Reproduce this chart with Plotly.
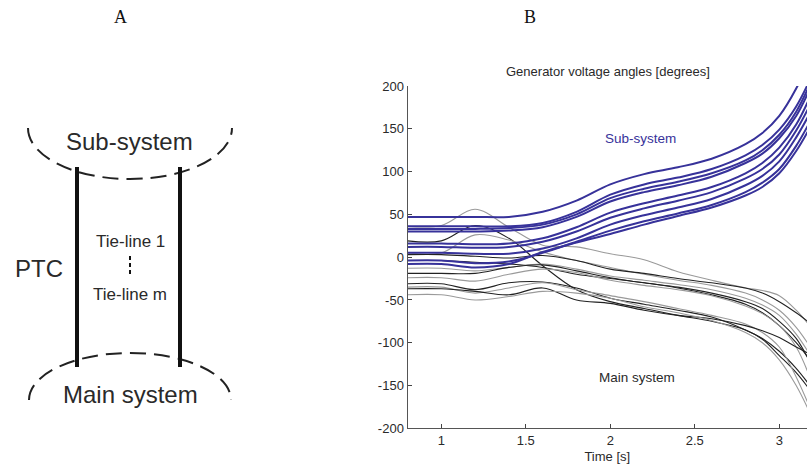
import plotly.graph_objects as go

# ---- time samples (s) ----
time_s = [0.8, 1.0, 1.2, 1.4, 1.6, 1.8, 2.0, 2.2, 2.4, 2.6, 2.8, 2.9, 3.0, 3.1, 3.2]

# ---- sub-system generator angles (degrees) ----
sub_1 = [47, 47, 47, 47, 53, 66, 85, 97, 105, 115, 132, 145, 165, 197, 240]
sub_2 = [36, 36, 36, 36, 40, 53, 73, 85, 93, 103, 119, 131, 149, 176, 215]
sub_3 = [33, 33, 33, 34, 38, 50, 69, 80, 88, 98, 113, 125, 143, 170, 210]
sub_4 = [30, 30, 30, 31, 35, 47, 65, 76, 84, 94, 110, 121, 139, 165, 205]
sub_5 = [16, 16, 15, 16, 22, 35, 52, 63, 72, 82, 98, 110, 128, 155, 195]
sub_6 = [12, 12, 11, 12, 18, 30, 46, 57, 66, 76, 92, 103, 120, 148, 185]
sub_7 = [5, 5, 4, 4, 10, 22, 38, 49, 58, 68, 84, 95, 112, 140, 175]
sub_8 = [-4, -4, -7, -5, 5, 18, 31, 42, 51, 61, 76, 87, 103, 130, 165]
sub_9 = [-8, -8, -12, -8, 6, 17, 27, 38, 48, 58, 72, 82, 98, 124, 158]

# ---- main-system generator angles (degrees) ----
main_1 = [36, 37, 56, 35, 14, 12, 4, -3, -17, -27, -36, -39, -45, -62, -85]
main_2 = [19, 19, 37, 22, -10, -38, -52, -60, -68, -75, -85, -96, -115, -135, -160]
main_3 = [5, 5, 26, 20, 6, -4, -12, -20, -27, -33, -42, -50, -62, -82, -110]
main_4 = [3, 3, 1, -1, 2, -4, -14, -19, -25, -30, -36, -42, -52, -65, -80]
main_5 = [-4, -4, -6, -8, -12, -20, -25, -30, -36, -44, -55, -65, -80, -100, -125]
main_6 = [-13, -13, -16, -12, -8, -14, -22, -27, -32, -38, -48, -56, -68, -90, -120]
main_7 = [-19, -19, -19, -12, -9, -16, -24, -30, -35, -42, -52, -60, -75, -95, -130]
main_8 = [-24, -24, -28, -20, -14, -18, -27, -33, -38, -45, -57, -66, -80, -105, -150]
main_9 = [-31, -31, -38, -30, -29, -36, -48, -55, -62, -70, -85, -95, -110, -130, -155]
main_10 = [-35, -35, -42, -36, -30, -38, -45, -52, -60, -68, -78, -88, -105, -140, -185]
main_11 = [-37, -37, -40, -44, -36, -50, -54, -62, -68, -72, -80, -86, -94, -105, -115]
main_12 = [-44, -44, -50, -46, -40, -42, -48, -58, -65, -74, -88, -100, -120, -150, -190]

sub_series = [sub_1, sub_2, sub_3, sub_4, sub_5, sub_6, sub_7, sub_8, sub_9]
main_series = [main_1, main_2, main_3, main_4, main_5, main_6,
               main_7, main_8, main_9, main_10, main_11, main_12]
main_tone = ["light", "dark", "light", "dark", "dark", "light",
             "dark", "light", "dark", "light", "dark", "light"]

y_tick_vals = [-200, -150, -100, -50, 0, 50, 100, 150, 200]
y_tick_text = ["-200", "-150", "-100", "-50", "0", "50", "100", "150", "200"]
x_tick_vals = [1, 1.5, 2, 2.5, 3]
x_tick_text = ["1", "1.5", "2", "2.5", "3"]

BLUE = "#37329a"
DARK = "#222222"
LIGHT = "#9a9a9a"
TXT = "#2a2a2a"
SANS = "Liberation Sans, Arial, sans-serif"

fig = go.Figure()

for vals, tone in zip(main_series, main_tone):
    fig.add_trace(go.Scatter(
        x=time_s, y=vals, mode="lines",
        line=dict(color=DARK if tone == "dark" else LIGHT, width=1.1,
                  shape="spline", smoothing=1.0),
        hoverinfo="skip", showlegend=False, xaxis="x", yaxis="y"))

for vals in sub_series:
    fig.add_trace(go.Scatter(
        x=time_s, y=vals, mode="lines",
        line=dict(color=BLUE, width=2, shape="spline", smoothing=1.0),
        hoverinfo="skip", showlegend=False, xaxis="x", yaxis="y"))

W, H = 807, 466

# ---- diagram drawn on a pixel-unit overlay axis pair ----
def half_ellipse(cx, cy, a, b, lower=True):
    k = 0.5523
    s = 1 if lower else -1
    return (f"M {cx - a},{cy} "
            f"C {cx - a},{cy + s * k * b} {cx - k * a},{cy + s * b} {cx},{cy + s * b} "
            f"C {cx + k * a},{cy + s * b} {cx + a},{cy + s * k * b} {cx + a},{cy}")

shapes = [
    dict(type="path", path=half_ellipse(130, 128, 102, 51, lower=True),
         xref="x2", yref="y2", line=dict(color=DARK, width=2, dash="16px,8px")),
    dict(type="path", path=half_ellipse(130, 400, 101, 47, lower=False),
         xref="x2", yref="y2", line=dict(color=DARK, width=2, dash="16px,8px")),
    dict(type="line", x0=77, x1=77, y0=167, y1=367, xref="x2", yref="y2",
         line=dict(color="#111111", width=4)),
    dict(type="line", x0=180, x1=180, y0=167, y1=367, xref="x2", yref="y2",
         line=dict(color="#111111", width=4)),
    dict(type="line", x0=130, x1=130, y0=256, y1=275, xref="x2", yref="y2",
         line=dict(color="#111111", width=2, dash="4px,3px")),
]

def note(x, y, text, size, color=TXT, family=SANS, ref=("x2", "y2")):
    return dict(x=x, y=y, xref=ref[0], yref=ref[1], text=text, showarrow=False,
                font=dict(family=family, size=size, color=color),
                xanchor="center", yanchor="middle")

annotations = [
    note(120, 17, "A", 18, color="#111111", family="Liberation Serif, Times New Roman, serif"),
    note(530, 17, "B", 18, color="#111111", family="Liberation Serif, Times New Roman, serif"),
    note(129, 141, "Sub-system", 24),
    note(130, 394, "Main system", 24),
    note(39, 268, "PTC", 24),
    note(130, 241, "Tie-line 1", 17),
    note(130, 294, "Tie-line m", 17),
    note(608, 71, "Generator voltage angles [degrees]", 13),
    note(2.176, 139, "Sub-system", 13.5, color=BLUE, ref=("x", "y")),
    note(2.16, -141, "Main system", 13.5, ref=("x", "y")),
]

fig.update_layout(
    width=W, height=H,
    margin=dict(l=0, r=0, t=0, b=0, autoexpand=False),
    paper_bgcolor="white", plot_bgcolor="rgba(0,0,0,0)",
    showlegend=False,
    shapes=shapes, annotations=annotations,
    xaxis=dict(domain=[407.5 / W, 1.0], range=[0.8, 3.164], anchor="y",
               automargin=False,
               tickvals=x_tick_vals, ticktext=x_tick_text,
               ticks="inside", ticklen=4, tickcolor="#444444",
               showline=True, linecolor="#555555", linewidth=1,
               showgrid=False, zeroline=False,
               tickfont=dict(family=SANS, size=13, color=TXT),
               title=dict(text="Time [s]", standoff=4,
                          font=dict(family=SANS, size=13, color=TXT))),
    yaxis=dict(domain=[1 - 428.3 / H, 1 - 86 / H], range=[-200, 200], anchor="x",
               automargin=False,
               tickvals=y_tick_vals, ticktext=y_tick_text,
               ticks="inside", ticklen=4, tickcolor="#444444",
               showline=True, linecolor="#555555", linewidth=1,
               showgrid=False, zeroline=False,
               tickfont=dict(family=SANS, size=13, color=TXT)),
    xaxis2=dict(domain=[0, 1], range=[0, W], anchor="y2", visible=False,
                fixedrange=True, automargin=False),
    yaxis2=dict(domain=[0, 1], range=[H, 0], anchor="x2", visible=False,
                fixedrange=True, automargin=False),
)

fig.write_html("out.html")
